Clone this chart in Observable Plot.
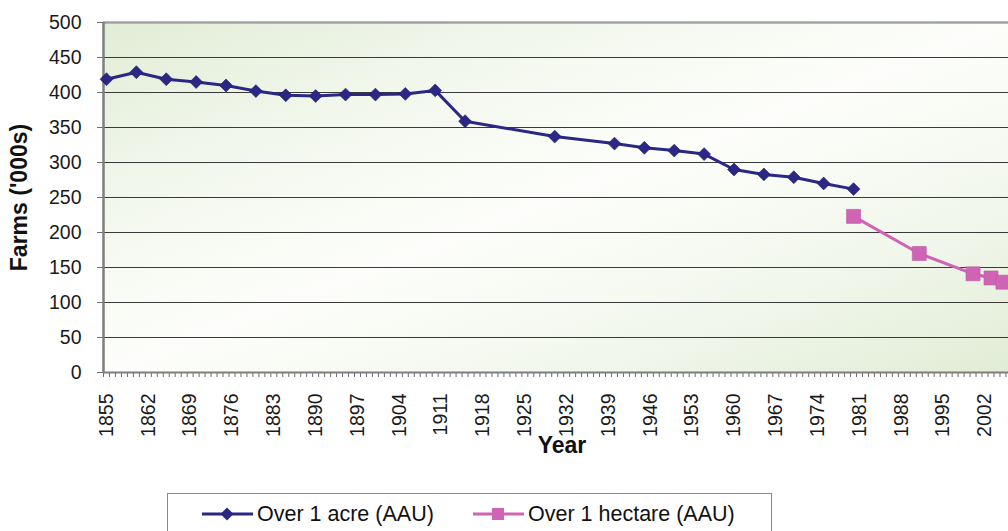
<!DOCTYPE html>
<html>
<head>
<meta charset="utf-8">
<script src="https://cdn.jsdelivr.net/npm/d3@7"></script>
<script src="https://cdn.jsdelivr.net/npm/@observablehq/plot@0.6"></script>
<style>
  html, body { margin: 0; padding: 0; background: #ffffff; }
  body { font-family: "Liberation Sans", Arial, sans-serif; }
  #wrap { position: relative; width: 1008px; height: 531px; overflow: hidden; }
  #chart svg { display: block; }
  .legend { position: absolute; left: 167px; top: 493px; width: 605px; height: 70px;
            border: 1px solid #8a8a8a; box-sizing: border-box; background: #ffffff; }
  .item { position: absolute; top: 9px; height: 22px; display: flex; align-items: center;
          font-size: 21.5px; color: #111; white-space: nowrap; }
  .item svg { display: block; margin-right: 4px; }
</style>
</head>
<body>
<div id="wrap">
  <div id="chart"></div>
  <div class="legend" id="legend"></div>
</div>
<script>
// ---- data ----
const acreYears = [1855, 1860, 1865, 1870, 1875, 1880, 1885, 1890, 1895, 1900, 1905, 1910, 1915,
                   1930, 1940, 1945, 1950, 1955, 1960, 1965, 1970, 1975, 1980];
const acreFarms = [419, 429, 419, 415, 410, 402, 396, 395, 397, 397, 398, 403, 359,
                   337, 327, 321, 317, 312, 290, 283, 279, 270, 262];

const hectareYears = [1980, 1991, 2000, 2003, 2005];
const hectareFarms = [223, 170, 141, 135, 129];

const seriesNames = ["Over 1 acre (AAU)", "Over 1 hectare (AAU)"];
const seriesColors = ["#2a2785", "#cf64b4"];

const xLabelYears = d3.range(1855, 2006, 7);   // 1855, 1862, ... 2002
const yTickValues = d3.range(0, 501, 50);
const xTitle = "Year";
const yTitle = "Farms ('000s)";

// ---- build tables ----
const acre = acreYears.map((year, i) => ({year, farms: acreFarms[i]}));
const hectare = hectareYears.map((year, i) => ({year, farms: hectareFarms[i]}));
const minorTicks = d3.range(1854.5, 2006, 1);
const gridValues = yTickValues.filter(v => v > 0 && v < 500);

const chart = Plot.plot({
  width: 1008,
  height: 480,
  marginLeft: 103,
  marginRight: 0,
  marginTop: 22,
  marginBottom: 108,
  style: {fontFamily: "'Liberation Sans', Arial, sans-serif", fontSize: "19.5px", color: "#1a1a1a", background: "transparent", overflow: "visible"},
  x: {domain: [1854.5, 2005.93]},
  y: {domain: [0, 500]},
  marks: [
    Plot.frame({fill: "url(#plotBg)", stroke: null}),
    Plot.gridY(gridValues, {stroke: "#3a3a3a", strokeOpacity: 1, strokeWidth: 1}),
    Plot.ruleY([500], {stroke: "#a3a3a3", strokeWidth: 2.5}),
    Plot.axisY(yTickValues, {tickSize: 6, tickPadding: 16, label: null, stroke: "#6e6e6e"}),
    Plot.axisX(minorTicks, {tickSize: 5, fill: "none", label: null, stroke: "#6e6e6e"}),
    Plot.axisX(xLabelYears, {tickSize: 0, tickPadding: 21, tickRotate: -90, tickFormat: "d", label: null}),
    Plot.ruleX([1854.5], {stroke: "#7e7e7e", strokeWidth: 2.5}),
    Plot.ruleY([0], {stroke: "#7e7e7e", strokeWidth: 2}),
    Plot.line(acre, {x: "year", y: "farms", stroke: seriesColors[0], strokeWidth: 3}),
    Plot.dot(acre, {x: "year", y: "farms", symbol: "diamond2", r: 5.8, fill: seriesColors[0], stroke: "#1d1a66", strokeWidth: 0.6}),
    Plot.line(hectare, {x: "year", y: "farms", stroke: seriesColors[1], strokeWidth: 3}),
    Plot.dot(hectare, {x: "year", y: "farms", symbol: "square", r: 7.9, fill: seriesColors[1], stroke: "#c058a6", strokeWidth: 0.6}),
    Plot.text([yTitle], {frameAnchor: "left", textAnchor: "middle", dx: -84, rotate: -90, fontSize: 23, fontWeight: "bold", fill: "#111"}),
    Plot.text([xTitle], {frameAnchor: "bottom", dy: 80, dx: 6, fontSize: 23, fontWeight: "bold", fill: "#111"})
  ]
});

// background gradient for the plot area
const ns = "http://www.w3.org/2000/svg";
const defs = document.createElementNS(ns, "defs");
defs.innerHTML = `
  <linearGradient id="plotBg" x1="0" y1="0" x2="1" y2="1">
    <stop offset="0" stop-color="#e1edd6"/>
    <stop offset="0.25" stop-color="#f2f7ec"/>
    <stop offset="0.5" stop-color="#fdfefb"/>
    <stop offset="0.75" stop-color="#f2f7ec"/>
    <stop offset="1" stop-color="#e1edd6"/>
  </linearGradient>`;
chart.insertBefore(defs, chart.firstChild);
document.getElementById("chart").appendChild(chart);

// legend
const legend = document.getElementById("legend");
const itemLeft = [34, 305];
const sampleSymbol = [
  c => `<path d="M25,1.5 L31.5,8 L25,14.5 L18.5,8 Z" fill="${c}"/>`,
  c => `<rect x="19" y="2" width="12" height="12" fill="${c}"/>`
];
seriesNames.forEach((name, i) => {
  const div = document.createElement("div");
  div.className = "item";
  div.style.left = itemLeft[i] + "px";
  const c = seriesColors[i];
  div.innerHTML = `<svg width="51" height="16"><line x1="0" y1="8" x2="51" y2="8" stroke="${c}" stroke-width="3"/>${sampleSymbol[i](c)}</svg><span>${name}</span>`;
  legend.appendChild(div);
});
</script>
</body>
</html>
